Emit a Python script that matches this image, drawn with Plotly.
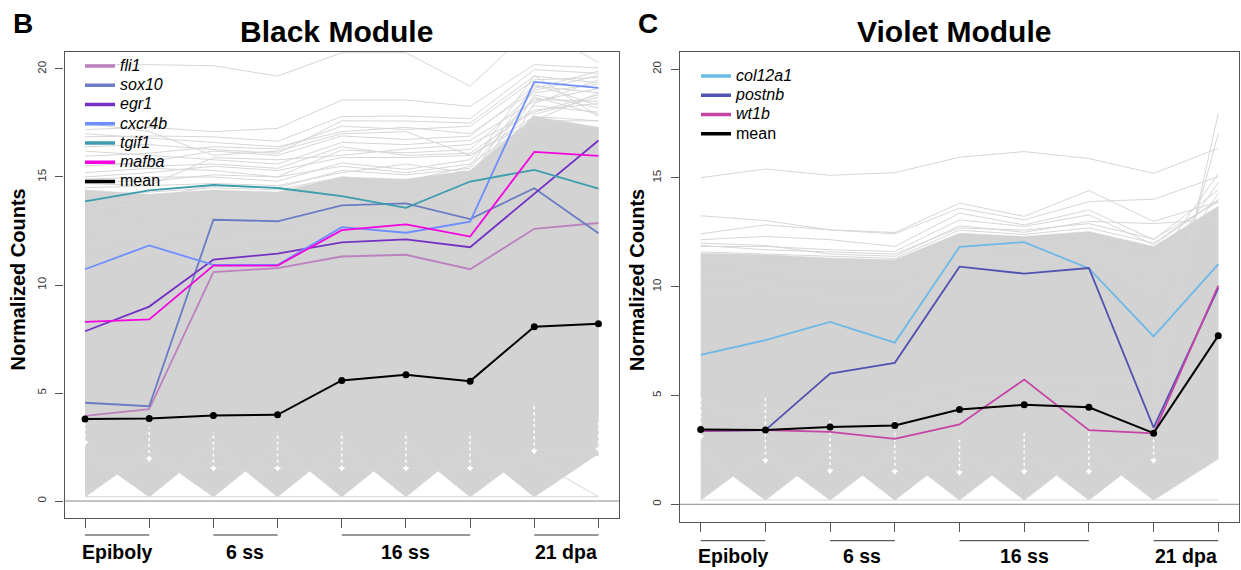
import plotly.graph_objects as go

# ---------------- data ----------------
samples = [1, 2, 3, 4, 5, 6, 7, 8, 9]
stage_names = ["Epiboly", "6 ss", "16 ss", "21 dpa"]
stage_first = [1, 3, 5, 8]
stage_last = [2, 4, 7, 9]

# Black module highlighted genes
fli1 = [3.94, 4.25, 10.6, 10.78, 11.32, 11.4, 10.73, 12.6, 12.87]
sox10 = [4.55, 4.39, 13.02, 12.95, 13.69, 13.78, 13.05, 14.48, 12.4]
egr1 = [7.86, 9.0, 11.18, 11.45, 11.97, 12.11, 11.75, 14.23, 16.69]
cxcr4b = [10.73, 11.83, 10.93, 10.93, 12.68, 12.42, 12.93, 19.4, 19.13]
tgif1 = [13.87, 14.38, 14.63, 14.49, 14.11, 13.57, 14.79, 15.33, 14.46]
mafba = [8.29, 8.41, 10.9, 10.9, 12.54, 12.81, 12.24, 16.16, 15.98]
mean_black = [3.8, 3.82, 3.96, 3.99, 5.58, 5.85, 5.55, 8.07, 8.21]

# Black module background genes (dense band envelope + sparse lines)
black_band_top = [14.4, 14.2, 14.4, 14.3, 15.0, 14.9, 15.3, 17.8, 17.3]
black_floor_a = [0.2, 2.3, 0.2, 2.6, 0.2, 2.6, 0.2, 2.4, 2.1]
black_floor_b = [2.3, 0.2, 2.6, 0.2, 2.6, 0.2, 2.6, 0.2, 2.2]
black_floor_c = [2.0, 1.8, 1.5, 1.5, 1.5, 1.5, 1.5, 1.9, 0.2]
black_zero = [0.2, 0.2, 0.2, 0.2, 0.2, 0.2, 0.2, 0.2, 0.2]
black_bg = [
    [20.2, 20.2, 20.15, 19.67, 20.75, 20.75, 19.2, 22.0, 20.3],
    [17.2, 17.3, 17.1, 17.25, 18.56, 18.56, 18.27, 20.2, 20.05],
    [16.86, 16.9, 16.86, 16.65, 17.8, 17.82, 17.7, 19.97, 19.8],
    [16.4, 16.5, 16.27, 16.1, 17.6, 17.59, 17.5, 19.67, 19.36],
    [15.96, 16.1, 16.4, 16.3, 17.35, 17.2, 17.35, 19.5, 19.6],
    [15.5, 15.7, 16.2, 16.0, 16.9, 16.74, 16.89, 19.2, 18.9],
    [15.2, 15.4, 15.3, 15.0, 16.25, 16.12, 16.27, 18.9, 19.3],
    [14.9, 15.0, 15.0, 14.8, 15.65, 15.35, 15.8, 18.6, 18.5],
    [14.7, 14.6, 14.7, 14.6, 15.2, 15.6, 15.19, 18.3, 18.0],
    [14.5, 14.6, 15.9, 15.8, 16.0, 16.3, 16.5, 18.0, 18.8],
    [17.5, 17.1, 16.0, 16.2, 17.0, 17.1, 16.0, 17.6, 17.6],
    [13.0, 13.3, 13.8, 13.6, 14.5, 14.2, 14.6, 19.1, 19.9],
    [12.5, 12.8, 13.5, 13.5, 14.2, 14.4, 14.0, 18.8, 18.2],
    [13.5, 13.8, 14.0, 14.1, 14.8, 14.8, 15.5, 19.7, 17.8],
    [11.0, 11.5, 12.0, 12.2, 13.0, 13.1, 13.5, 18.4, 19.5],
    [12.0, 12.3, 12.9, 13.0, 13.8, 13.9, 14.4, 17.9, 18.7],
    [17.0, 16.8, 16.6, 16.4, 17.1, 17.3, 17.0, 19.0, 19.7],
    [16.2, 16.0, 15.8, 15.6, 16.6, 16.5, 16.7, 18.5, 19.1],
    [15.7, 15.5, 15.6, 15.4, 16.4, 16.0, 16.1, 18.1, 18.4],
    [15.0, 15.2, 15.5, 15.3, 15.9, 15.9, 16.0, 17.8, 17.6],
    [14.8, 14.8, 15.1, 15.0, 15.5, 15.2, 15.6, 17.6, 18.9],
    [13.8, 14.0, 14.6, 14.5, 15.3, 15.1, 15.4, 18.7, 17.9],
    [14.2, 14.3, 14.5, 14.4, 15.0, 14.8, 15.0, 19.3, 18.3],
]
black_gap_low = [2.7, 1.95, 1.5, 1.5, 1.5, 1.5, 1.5, 2.3, 2.4]
black_gap_high = [3.6, 3.4, 3.2, 3.2, 3.2, 3.2, 3.2, 4.5, 3.8]

# Violet module highlighted genes
col12a1 = [6.87, 7.54, 8.38, 7.43, 11.83, 12.05, 10.84, 7.72, 11.04]
postnb = [3.36, 3.41, 6.01, 6.5, 10.92, 10.6, 10.86, 3.52, 9.94]
wt1b = [3.38, 3.41, 3.33, 3.01, 3.67, 5.73, 3.41, 3.26, 10.05]
mean_violet = [3.44, 3.41, 3.55, 3.62, 4.36, 4.57, 4.46, 3.27, 7.75]

violet_band_top = [11.54, 11.47, 11.32, 11.24, 12.46, 12.31, 12.54, 11.85, 13.7]
violet_floor_a = [0.2, 2.4, 0.2, 2.5, 0.2, 2.5, 0.2, 2.5, 2.1]
violet_floor_b = [2.4, 0.2, 2.5, 0.2, 2.5, 0.2, 2.5, 0.2, 2.1]
violet_zero = [0.2, 0.2, 0.2, 0.2, 0.2, 0.2, 0.2, 0.2, 0.2]
violet_bg = [
    [15.01, 15.41, 15.12, 15.24, 15.95, 16.21, 15.89, 15.21, 16.36],
    [13.26, 13.04, 12.61, 12.49, 13.84, 13.23, 14.42, 13.0, 13.9],
    [12.43, 12.84, 12.61, 12.43, 13.61, 13.07, 13.91, 14.02, 15.06],
    [12.16, 12.31, 12.16, 11.85, 13.38, 12.84, 13.53, 12.16, 14.45],
    [11.85, 11.85, 11.7, 11.62, 13.07, 12.77, 13.3, 11.93, 13.99],
    [11.2, 11.0, 10.9, 10.8, 12.0, 11.8, 12.0, 11.0, 15.2],
    [10.5, 10.8, 10.5, 10.4, 11.5, 11.3, 11.8, 10.5, 14.8],
    [9.8, 10.0, 9.5, 9.5, 11.2, 11.0, 11.5, 9.8, 14.3],
    [12.0, 11.9, 11.5, 11.4, 12.8, 12.5, 13.0, 12.9, 13.1],
    [11.9, 11.7, 11.6, 11.5, 12.7, 12.6, 12.9, 12.2, 13.9],
    [11.6, 11.5, 11.4, 11.3, 12.6, 12.4, 12.7, 12.0, 14.0],
    [3.5, 3.8, 4.0, 4.2, 4.8, 5.0, 4.8, 4.5, 17.97],
    [4.5, 4.2, 4.6, 4.8, 5.5, 5.8, 5.5, 6.0, 17.05],
]
violet_gap_low = [3.1, 2.0, 1.53, 1.5, 1.45, 1.5, 1.5, 2.0, None]
violet_gap_high = [5.0, 5.0, 3.9, 4.0, 3.1, 3.3, 3.3, 3.0, None]

# ---------------- styling ----------------
FONT = "Liberation Sans, Arial, Helvetica, sans-serif"
GREY = "#D3D3D3"
LINE_GREY = "#D6D6D6"
LEG_TEXT = '<span style="font-size:16px">%s</span>'

black_genes = [("fli1", fli1, "#BB82BE"), ("sox10", sox10, "#6C7CC2"),
               ("egr1", egr1, "#7432C4"), ("cxcr4b", cxcr4b, "#6E8EFF"),
               ("tgif1", tgif1, "#3C9DAD"), ("mafba", mafba, "#F402DF")]
violet_genes = [("col12a1", col12a1, "#6DB8E6"), ("postnb", postnb, "#5252B0"),
                ("wt1b", wt1b, "#C544A6")]

fig = go.Figure()


def band_polygon(top, fa, fb):
    low_x, low_y = [], []
    n = len(samples)
    for i in range(n):
        low_x.append(samples[i])
        low_y.append(min(fa[i], fb[i]))
        if i < n - 1:
            da = fa[i + 1] - fa[i]
            db = fb[i + 1] - fb[i]
            if da != db:
                t = (fb[i] - fa[i]) / (da - db)
                if 0 < t < 1:
                    low_x.append(samples[i] + t * (samples[i + 1] - samples[i]))
                    low_y.append(fa[i] + t * da)
    return list(samples) + low_x[::-1], list(top) + low_y[::-1]


def add_panel(xa, ya, top, floors, bg, gap_lo, gap_hi, genes, mean, legend):
    px, py = band_polygon(top, floors[0], floors[1])
    fig.add_trace(go.Scatter(x=px, y=py, fill="toself", fillcolor=GREY, mode="lines",
                             line=dict(width=0.5, color=GREY), showlegend=False,
                             hoverinfo="skip", xaxis=xa, yaxis=ya))
    lx, ly = [], []
    for g in bg + floors:
        lx += samples + [None]
        ly += g + [None]
    fig.add_trace(go.Scatter(x=lx, y=ly, mode="lines", line=dict(width=1, color=LINE_GREY),
                             showlegend=False, hoverinfo="skip", xaxis=xa, yaxis=ya))
    # white converging gaps at each sample
    wx, wy, mx, my = [], [], [], []
    for s, lo, hi in zip(samples, gap_lo, gap_hi):
        if lo is None:
            continue
        wx += [s, s, None]
        wy += [lo, hi, None]
        mx.append(s)
        my.append(lo)
    fig.add_trace(go.Scatter(x=wx, y=wy, mode="lines", line=dict(width=1.5, color="white", dash="dot"),
                             showlegend=False, hoverinfo="skip", xaxis=xa, yaxis=ya))
    fig.add_trace(go.Scatter(x=mx, y=my, mode="markers",
                             marker=dict(symbol="triangle-down", size=6, color="white"),
                             showlegend=False, hoverinfo="skip", xaxis=xa, yaxis=ya))
    for name, vals, col in genes:
        fig.add_trace(go.Scatter(x=samples, y=vals, mode="lines", line=dict(width=1.8, color=col),
                                 showlegend=False, xaxis=xa, yaxis=ya, name=name))
    fig.add_trace(go.Scatter(x=samples, y=mean, mode="lines+markers",
                             line=dict(width=2, color="black"), marker=dict(size=7, color="black"),
                             showlegend=False, xaxis=xa, yaxis=ya, name="mean"))
    # legend entries
    for name, vals, col in genes:
        fig.add_trace(go.Scatter(x=[None], y=[None], mode="lines", line=dict(width=3.5, color=col),
                                 name=LEG_TEXT % ("<i>%s</i>" % name), legend=legend,
                                 xaxis=xa, yaxis=ya))
    fig.add_trace(go.Scatter(x=[None], y=[None], mode="lines", line=dict(width=3.5, color="black"),
                             name=LEG_TEXT % "mean", legend=legend, xaxis=xa, yaxis=ya))


add_panel("x", "y", black_band_top, [black_floor_a, black_floor_b, black_floor_c, black_zero],
          black_bg, black_gap_low, black_gap_high, black_genes, mean_black, "legend")
add_panel("x2", "y2", violet_band_top, [violet_floor_a, violet_floor_b, violet_zero],
          violet_bg, violet_gap_low, violet_gap_high, violet_genes, mean_violet, "legend2")

W, H = 1241, 570
bdom_x = [64.5 / W, 619 / W]
cdom_x = [680 / W, 1239 / W]
bdom_y = [(H - 518.3) / H, (H - 51.7) / H]
cdom_y = [(H - 521.7) / H, (H - 51.7) / H]

axis_x = dict(range=[0.68, 9.32], tickvals=samples, showticklabels=False, ticks="outside",
              ticklen=9, tickcolor="#555", tickwidth=1, showline=True, mirror=True,
              linecolor="#555", linewidth=1.3, showgrid=False, zeroline=False)
axis_y = dict(range=[-0.8, 20.8], tickvals=[0, 5, 10, 15, 20], ticks="outside", ticklen=8,
              tickcolor="#555", tickwidth=1, tickangle=-90, showline=True, mirror=True,
              linecolor="#555", linewidth=1.3, showgrid=False, zeroline=False,
              tickfont=dict(family=FONT, size=11.5, color="#333"), ticklabelstandoff=5)

LEG_FS = 12.5
item_h = 1.3 * LEG_FS + 3
fig.update_layout(
    width=W, height=H, margin=dict(l=0, r=0, t=0, b=0),
    paper_bgcolor="white", plot_bgcolor="white",
    xaxis=dict(domain=bdom_x, anchor="y", **axis_x),
    yaxis=dict(domain=bdom_y, anchor="x", **axis_y),
    xaxis2=dict(domain=cdom_x, anchor="y2", **axis_x),
    yaxis2=dict(domain=cdom_y, anchor="x2", **axis_y),
    legend=dict(x=80 / W, y=1 - (66 - 5 - item_h / 2) / H, xanchor="left", yanchor="top",
                bgcolor="rgba(0,0,0,0)", font=dict(family=FONT, size=LEG_FS, color="black")),
    legend2=dict(x=696 / W, y=1 - (76 - 5 - item_h / 2) / H, xanchor="left", yanchor="top",
                 bgcolor="rgba(0,0,0,0)", font=dict(family=FONT, size=LEG_FS, color="black")),
    showlegend=True,
    font=dict(family=FONT),
)

shapes = []
annotations = []
for xr, yd, bar_y, lab_y in [("x", bdom_y, 535, 552), ("x2", cdom_y, 540.7, 556)]:
    shapes.append(dict(type="line", xref=xr + " domain", yref=xr.replace("x", "y"),
                       x0=0, x1=1, y0=0, y1=0, line=dict(color="#8a8a8a", width=1)))
    for name, a, b in zip(stage_names, stage_first, stage_last):
        shapes.append(dict(type="line", xref=xr, yref="paper", x0=a, x1=b,
                           y0=1 - bar_y / H, y1=1 - bar_y / H, line=dict(color="#333", width=1)))
        annotations.append(dict(xref=xr, yref="paper", x=(a + b) / 2, y=1 - lab_y / H,
                                text="<b>%s</b>" % name, showarrow=False,
                                font=dict(family=FONT, size=19.5, color="black"),
                                xanchor="center", yanchor="middle"))

for text, x, y, size in [("Black Module", 337, 31.7, 30), ("Violet Module", 953.7, 31.7, 30),
                         ("B", 23, 23, 28), ("C", 647.5, 23, 28)]:
    annotations.append(dict(xref="paper", yref="paper", x=x / W, y=1 - y / H,
                            text="<b>%s</b>" % text, showarrow=False,
                            font=dict(family=FONT, size=size, color="black"),
                            xanchor="center", yanchor="middle"))
for x in [17.5, 637]:
    annotations.append(dict(xref="paper", yref="paper", x=x / W, y=1 - 280 / H,
                            text="<b>Normalized Counts</b>", showarrow=False, textangle=-90,
                            font=dict(family=FONT, size=20, color="black"),
                            xanchor="center", yanchor="middle"))

fig.update_layout(shapes=shapes, annotations=annotations)
fig.write_html("out.html", config={"displayModeBar": False},
               post_script="document.body.style.margin='0';")
